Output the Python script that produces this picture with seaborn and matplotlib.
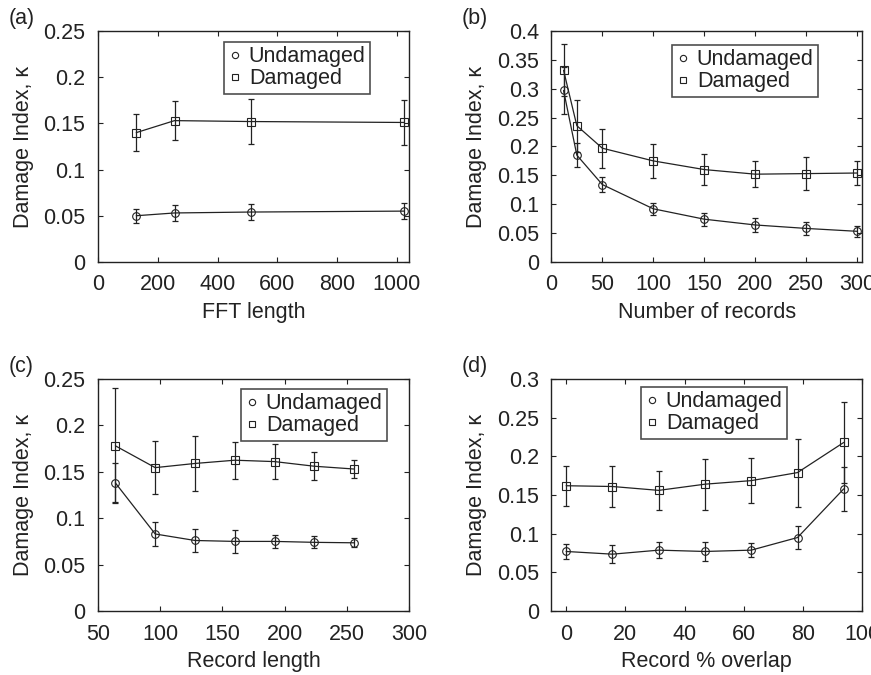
import matplotlib
matplotlib.use("Agg")
import matplotlib.pyplot as plt
import matplotlib.ticker as mticker
from matplotlib.lines import Line2D
import numpy as np
import pandas as pd
import seaborn as sns

# (a) FFT length
fft_len = [128, 256, 512, 1024]
fft_und = [0.050, 0.053, 0.054, 0.055]
fft_und_err = [0.0075, 0.0085, 0.009, 0.009]
fft_dam = [0.140, 0.153, 0.152, 0.151]
fft_dam_err = [0.020, 0.0215, 0.024, 0.024]

# (b) Number of records
n_rec = [12, 25, 50, 100, 150, 200, 250, 300]
rec_und = [0.297, 0.185, 0.134, 0.092, 0.074, 0.064, 0.058, 0.053]
rec_und_err = [0.040, 0.021, 0.013, 0.0105, 0.0115, 0.012, 0.0115, 0.010]
rec_dam = [0.332, 0.236, 0.197, 0.175, 0.160, 0.152, 0.153, 0.154]
rec_dam_err = [0.045, 0.045, 0.034, 0.029, 0.027, 0.0225, 0.028, 0.0215]

# (c) Record length
rec_len = [64, 96, 128, 160, 192, 224, 256]
len_und = [0.138, 0.083, 0.076, 0.075, 0.075, 0.074, 0.0735]
len_und_err = [0.021, 0.0125, 0.012, 0.0125, 0.007, 0.0065, 0.005]
len_dam = [0.178, 0.1545, 0.159, 0.1625, 0.161, 0.156, 0.153]
len_dam_err = [0.062, 0.0285, 0.030, 0.020, 0.019, 0.015, 0.010]

# (d) Record % overlap
overlap = [0, 15.625, 31.25, 46.875, 62.5, 78.125, 93.75]
ovl_und = [0.077, 0.0735, 0.0787, 0.077, 0.0787, 0.095, 0.158]
ovl_und_err = [0.0095, 0.0115, 0.0105, 0.012, 0.0095, 0.015, 0.0285]
ovl_dam = [0.162, 0.161, 0.156, 0.164, 0.1686, 0.179, 0.218]
ovl_dam_err = [0.026, 0.027, 0.0255, 0.033, 0.029, 0.044, 0.052]

sns.set_style("ticks")
plt.rcParams["font.family"] = ["Liberation Sans", "DejaVu Sans"]
plt.rcParams["font.size"] = 15.5
INK = "#222222"
for k in ["text.color", "axes.labelcolor", "xtick.color", "ytick.color"]:
    plt.rcParams[k] = INK

FS = 15.5

panels = [
    dict(tag="(a)", x=fft_len, und=fft_und, ue=fft_und_err, dam=fft_dam, de=fft_dam_err,
         xlabel="FFT length", xlim=(0, 1040), xticks=np.arange(0, 1001, 200),
         ylim=(0, 0.25), pos=[0.1125, 0.612, 0.357, 0.342], leg=(224, 42)),
    dict(tag="(b)", x=n_rec, und=rec_und, ue=rec_und_err, dam=rec_dam, de=rec_dam_err,
         xlabel="Number of records", xlim=(0, 305), xticks=np.arange(0, 301, 50),
         ylim=(0, 0.4), pos=[0.633, 0.612, 0.357, 0.342], leg=(672, 45)),
    dict(tag="(c)", x=rec_len, und=len_und, ue=len_und_err, dam=len_dam, de=len_dam_err,
         xlabel="Record length", xlim=(50, 300), xticks=np.arange(50, 301, 50),
         ylim=(0, 0.25), pos=[0.1125, 0.0948, 0.357, 0.3437], leg=(241, 389)),
    dict(tag="(d)", x=overlap, und=ovl_und, ue=ovl_und_err, dam=ovl_dam, de=ovl_dam_err,
         xlabel="Record % overlap", xlim=(-5, 100), xticks=np.arange(0, 101, 20),
         ylim=(0, 0.3), pos=[0.633, 0.0948, 0.357, 0.3437], leg=(641, 387)),
]

fig = plt.figure(figsize=(8.71, 6.75), dpi=100)
W, H = 871, 675

for p in panels:
    ax = fig.add_axes(p["pos"])
    df = pd.DataFrame({
        "x": list(p["x"]) * 2,
        "y": list(p["und"]) + list(p["dam"]),
        "state": ["Undamaged"] * len(p["x"]) + ["Damaged"] * len(p["x"]),
    })
    sns.lineplot(data=df, x="x", y="y", style="state", markers={"Undamaged": "o", "Damaged": "s"},
                 dashes=False, color=INK, linewidth=0.9, markersize=5.5,
                 markerfacecolor="none", markeredgecolor=INK, markeredgewidth=0.8,
                 legend=False, ax=ax)
    ax.errorbar(p["x"], p["und"], yerr=p["ue"], fmt="none", ecolor=INK, elinewidth=0.9,
                capsize=2.5, capthick=0.9)
    ax.errorbar(p["x"], p["dam"], yerr=p["de"], fmt="none", ecolor=INK, elinewidth=0.9,
                capsize=2.5, capthick=0.9)

    ax.set_xlim(*p["xlim"])
    ax.set_ylim(*p["ylim"])
    ax.set_xticks(p["xticks"])
    ax.set_yticks(np.arange(0, p["ylim"][1] + 1e-9, 0.05))
    ax.xaxis.set_major_formatter(mticker.FormatStrFormatter("%g"))
    ax.yaxis.set_major_formatter(mticker.FuncFormatter(lambda v, _: "%g" % round(v, 3)))
    ax.tick_params(direction="in", top=True, right=True, length=3.5, width=0.8, pad=9,
                   labelsize=FS)
    for s in ax.spines.values():
        s.set_visible(True)
        s.set_color(INK)
        s.set_linewidth(1.0)
    ax.set_xlabel(p["xlabel"], fontsize=FS, labelpad=5)
    ax.set_ylabel("Damage Index, κ", fontsize=FS, labelpad=7)

    # legend shows markers only, boxed, as in the original figure
    handles = [
        Line2D([], [], linestyle="none", marker="o", markersize=4.5, markerfacecolor="none",
               markeredgecolor=INK, markeredgewidth=0.8, label="Undamaged"),
        Line2D([], [], linestyle="none", marker="s", markersize=4.0, markerfacecolor="none",
               markeredgecolor=INK, markeredgewidth=0.8, label="Damaged"),
    ]
    lx, ly = p["leg"]
    leg = ax.legend(handles=handles, loc="upper left", bbox_to_anchor=(lx / W, 1 - ly / H),
                    bbox_transform=fig.transFigure, fontsize=FS, frameon=True, fancybox=False,
                    borderpad=0.2, handlelength=0.6, handletextpad=0.35, labelspacing=0.05,
                    borderaxespad=0)
    leg.get_frame().set_edgecolor(INK)
    leg.get_frame().set_linewidth(1.2)

    px = p["pos"][0] - 0.103
    py = p["pos"][1] + p["pos"][3] + 0.018
    fig.text(px, py, p["tag"], fontsize=FS, ha="left", va="center")

fig.savefig("out.png", dpi=100)
